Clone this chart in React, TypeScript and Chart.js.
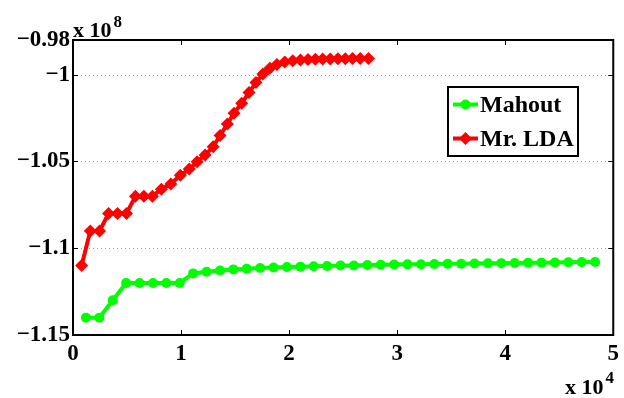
import React, { useEffect, useRef } from "react";
import { Chart, registerables } from "chart.js";

Chart.register(...registerables);

// x values in units of 10^4, y values in units of 10^8
const mahoutX = [0.12, 0.244, 0.368, 0.492, 0.616, 0.74, 0.864, 0.988, 1.112, 1.236, 1.36, 1.484, 1.608, 1.732, 1.856, 1.98, 2.104, 2.228, 2.352, 2.476, 2.6, 2.724, 2.848, 2.972, 3.096, 3.22, 3.344, 3.468, 3.592, 3.716, 3.84, 3.964, 4.088, 4.212, 4.336, 4.46, 4.584, 4.708, 4.832];
const mahoutY = [-1.14, -1.14, -1.13, -1.12, -1.12, -1.12, -1.12, -1.12, -1.1145, -1.1135, -1.1128, -1.1122, -1.1118, -1.1114, -1.1111, -1.1108, -1.1106, -1.1104, -1.1102, -1.11, -1.1099, -1.1097, -1.1095, -1.1094, -1.1093, -1.1092, -1.1091, -1.109, -1.1089, -1.1088, -1.1087, -1.1086, -1.1085, -1.1084, -1.1083, -1.1082, -1.1081, -1.108, -1.1079];

const ldaX = [0.08, 0.16, 0.246, 0.329, 0.412, 0.495, 0.578, 0.656, 0.735, 0.818, 0.905, 0.993, 1.076, 1.149, 1.223, 1.297, 1.361, 1.429, 1.49, 1.561, 1.629, 1.693, 1.758, 1.822, 1.887, 1.96, 2.034, 2.105, 2.175, 2.243, 2.311, 2.381, 2.452, 2.52, 2.587, 2.658, 2.735];
const ldaY = [-1.11, -1.09, -1.09, -1.08, -1.08, -1.08, -1.07, -1.07, -1.07, -1.066, -1.063, -1.058, -1.0544, -1.0501, -1.0463, -1.0415, -1.035, -1.0284, -1.0222, -1.0165, -1.0103, -1.0045, -0.9996, -0.9963, -0.9941, -0.9927, -0.9919, -0.9915, -0.9912, -0.9911, -0.991, -0.9909, -0.9908, -0.9908, -0.9907, -0.9907, -0.9906];

const seriesNames = ["Mahout", "Mr. LDA"];
const seriesColors = ["#00ff00", "#ff0000"];

const xTicks = [0, 1, 2, 3, 4, 5];
const xTickLabels = ["0", "1", "2", "3", "4", "5"];
const yTicks = [-1.15, -1.1, -1.05, -1, -0.98];
const yTickLabels = ["\u22121.15", "\u22121.1", "\u22121.05", "\u22121", "\u22120.98"];
const yGridValues = [-1.1, -1.05, -1];
const xExponent = "4";
const yExponent = "8";

const FONT = '"Liberation Serif", "Times New Roman", serif';

const framePlugin = {
  id: "frame",
  beforeDatasetsDraw(chart: any) {
    const { ctx, chartArea: a, scales } = chart;
    const y = scales.y;
    ctx.save();
    ctx.strokeStyle = "#9a9a9a";
    ctx.lineWidth = 1;
    ctx.setLineDash([1, 3]);
    for (const v of yGridValues) {
      const py = Math.round(y.getPixelForValue(v)) + 0.5;
      ctx.beginPath();
      ctx.moveTo(a.left, py);
      ctx.lineTo(a.right, py);
      ctx.stroke();
    }
    ctx.restore();
  },
  afterDatasetsDraw(chart: any) {
    const { ctx, chartArea: a, scales } = chart;
    const x = scales.x;
    const y = scales.y;
    ctx.save();
    ctx.setLineDash([]);
    ctx.strokeStyle = "#000";
    ctx.lineWidth = 2;
    ctx.strokeRect(a.left, a.top, a.right - a.left, a.bottom - a.top);
    const tl = 5;
    ctx.lineWidth = 1;
    ctx.beginPath();
    for (const v of xTicks) {
      const px = Math.round(x.getPixelForValue(v)) + 0.5;
      ctx.moveTo(px, a.bottom);
      ctx.lineTo(px, a.bottom - tl);
      ctx.moveTo(px, a.top);
      ctx.lineTo(px, a.top + tl);
    }
    for (const v of yTicks) {
      const py = Math.round(y.getPixelForValue(v)) + 0.5;
      ctx.moveTo(a.left, py);
      ctx.lineTo(a.left + tl, py);
      ctx.moveTo(a.right, py);
      ctx.lineTo(a.right - tl, py);
    }
    ctx.stroke();

    // exponent labels
    ctx.fillStyle = "#000";
    ctx.textBaseline = "alphabetic";
    ctx.textAlign = "left";
    ctx.font = `bold 22px ${FONT}`;
    const yl = "x 10";
    ctx.fillText(yl, a.left, a.top - 3);
    const ylw = ctx.measureText(yl).width;
    ctx.font = `bold 17px ${FONT}`;
    ctx.fillText(yExponent, a.left + ylw + 2, a.top - 13);

    ctx.font = `bold 22px ${FONT}`;
    const xl = "x 10";
    const xlx = 565;
    ctx.fillText(xl, xlx, 394);
    const xlw = ctx.measureText(xl).width;
    ctx.font = `bold 17px ${FONT}`;
    ctx.fillText(xExponent, xlx + xlw + 2, 383);

    // legend
    const lx = 448, ly = 87, lw = 130, lh = 69;
    ctx.fillStyle = "#fff";
    ctx.fillRect(lx, ly, lw, lh);
    ctx.strokeStyle = "#000";
    ctx.lineWidth = 2;
    ctx.strokeRect(lx, ly, lw, lh);
    const rows = [104.5, 138.5];
    chart.data.datasets.forEach((ds: any, i: number) => {
      const cy = rows[i];
      ctx.strokeStyle = ds.borderColor;
      ctx.lineWidth = 4;
      ctx.beginPath();
      ctx.moveTo(453, cy);
      ctx.lineTo(478, cy);
      ctx.stroke();
      ctx.fillStyle = ds.borderColor;
      ctx.beginPath();
      if (ds.pointStyle === "circle") {
        ctx.arc(465.5, cy, 5, 0, Math.PI * 2);
      } else {
        const r = 6.5;
        ctx.moveTo(465.5, cy - r);
        ctx.lineTo(465.5 + r, cy);
        ctx.lineTo(465.5, cy + r);
        ctx.lineTo(465.5 - r, cy);
        ctx.closePath();
      }
      ctx.fill();
      ctx.fillStyle = "#000";
      ctx.font = `bold 24px ${FONT}`;
      ctx.textBaseline = "middle";
      ctx.fillText(ds.label, 480, cy + 1);
    });
    ctx.restore();
  },
};

export default function App() {
  const ref = useRef<HTMLCanvasElement | null>(null);
  useEffect(() => {
    if (!ref.current) return;
    const chart = new Chart(ref.current, {
      type: "line",
      data: {
        datasets: [
          {
            label: seriesNames[0],
            data: mahoutX.map((v, i) => ({ x: v, y: mahoutY[i] })),
            borderColor: seriesColors[0],
            backgroundColor: seriesColors[0],
            pointBackgroundColor: seriesColors[0],
            pointBorderColor: seriesColors[0],
            borderWidth: 4,
            pointStyle: "circle",
            pointRadius: 5,
            pointBorderWidth: 0,
            tension: 0,
          },
          {
            label: seriesNames[1],
            data: ldaX.map((v, i) => ({ x: v, y: ldaY[i] })),
            borderColor: seriesColors[1],
            backgroundColor: seriesColors[1],
            pointBackgroundColor: seriesColors[1],
            pointBorderColor: seriesColors[1],
            borderWidth: 4,
            pointStyle: "rectRot",
            pointRadius: 6.5,
            pointBorderWidth: 0,
            tension: 0,
          },
        ],
      },
      options: {
        animation: false,
        responsive: false,
        maintainAspectRatio: false,
        layout: { padding: { top: 40, right: 8, left: 0, bottom: 0 } },
        plugins: { legend: { display: false }, tooltip: { enabled: false } },
        scales: {
          x: {
            type: "linear",
            min: 0,
            max: 5,
            afterBuildTicks: (axis: any) => {
              axis.ticks = xTicks.map((v) => ({ value: v }));
            },
            afterFit: (s: any) => {
              s.height = 63;
            },
            grid: { display: false, drawTicks: false },
            border: { display: false },
            ticks: {
              padding: 5,
              color: "#000",
              font: { family: FONT, size: 23, weight: "bold" },
              callback: (v: any) => {
                const i = xTicks.findIndex((t) => Math.abs(t - v) < 1e-9);
                return i >= 0 ? xTickLabels[i] : "";
              },
            },
          },
          y: {
            type: "linear",
            min: -1.15,
            max: -0.98,
            afterBuildTicks: (axis: any) => {
              axis.ticks = yTicks.map((v) => ({ value: v }));
            },
            afterFit: (s: any) => {
              s.width = 73;
            },
            grid: { display: false, drawTicks: false },
            border: { display: false },
            ticks: {
              padding: 3,
              color: "#000",
              font: { family: FONT, size: 23, weight: "bold" },
              callback: (v: any) => {
                const i = yTicks.findIndex((t) => Math.abs(t - v) < 1e-9);
                return i >= 0 ? yTickLabels[i] : "";
              },
            },
          },
        },
      },
      plugins: [framePlugin],
    } as any);
    return () => chart.destroy();
  }, []);
  return (
    <div style={{ position: "absolute", left: 0, top: 0, width: 624, height: 398, background: "#fff" }}>
      <canvas ref={ref} width={624} height={398} style={{ display: "block" }} />
    </div>
  );
}
